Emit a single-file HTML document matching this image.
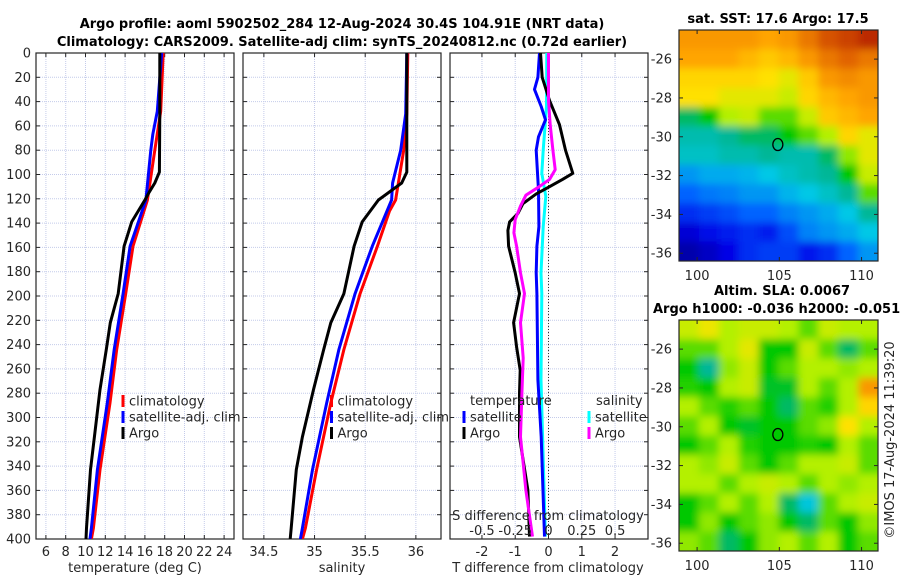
<!DOCTYPE html>
<html><head><meta charset="utf-8"><style>
html,body{margin:0;padding:0;background:#fff;}
svg{display:block;font-family:"DejaVu Sans","Liberation Sans",sans-serif;}
</style></head><body>
<svg id="fig" width="900" height="580" viewBox="0 0 900 580" xmlns="http://www.w3.org/2000/svg">
<defs>
<clipPath id="c1"><rect x="36" y="53" width="198" height="486"/></clipPath>
<clipPath id="c2"><rect x="243" y="53" width="198" height="486"/></clipPath>
<clipPath id="c3"><rect x="450" y="53" width="198" height="486"/></clipPath>
<clipPath id="cm1"><rect x="679" y="30" width="199" height="231"/></clipPath>
<clipPath id="cm2"><rect x="679" y="320" width="199" height="231"/></clipPath>
<filter id="bl" filterUnits="userSpaceOnUse" x="600" y="0" width="300" height="580"><feGaussianBlur stdDeviation="4"/></filter>
</defs>
<g id="root"></g>
</svg>
<script>
// ---- data ----
const tempArgoDepth = [0,48,98,107,115,121,139,159,198,222,244,277,316,343,391,400];
const tempArgo      = [17.5,17.5,17.46,17.0,16.4,16.0,14.67,13.9,13.3,12.5,12.1,11.46,10.9,10.5,10.1,10.05];
const tempClimDepth = [0,48,80,121,159,198,244,288,343,391,400];
const tempClim      = [17.85,17.6,17.0,16.25,14.8,14.06,13.15,12.47,11.46,10.8,10.6];
const tempSatDepth  = [0,48,67,80,121,159,198,244,288,343,391,400];
const tempSat       = [17.7,17.25,16.8,16.6,16.1,14.5,13.8,12.9,12.2,11.2,10.6,10.45];
const salArgoDepth  = [0,50,98,107,121,139,159,198,222,244,277,316,343,391,400];
const salArgo       = [35.91,35.91,35.91,35.86,35.63,35.47,35.39,35.29,35.16,35.09,34.99,34.88,34.82,34.77,34.76];
const salClimDepth  = [0,50,80,121,130,159,198,244,288,343,391,400];
const salClim       = [35.92,35.91,35.88,35.8,35.74,35.62,35.45,35.29,35.16,35.02,34.91,34.88];
const salSatDepth   = [0,50,80,107,121,159,198,244,288,343,391,400];
const salSat        = [35.91,35.9,35.85,35.77,35.76,35.57,35.4,35.24,35.12,34.98,34.88,34.86];
const dTArgoDepth = [0,20,39,59,80,99,104,110,116,124,132,139,146,159,181,198,222,242,261,280,316,360,398];
const dTArgo      = [-0.24,-0.19,0.03,0.33,0.51,0.73,0.42,0.03,-0.37,-0.77,-0.92,-1.17,-1.22,-1.2,-1.0,-0.87,-1.05,-0.96,-0.85,-0.87,-0.87,-0.62,-0.57];
const dSArgoDepth = [0,39,59,80,96,104,110,117,126,137,148,159,181,198,222,251,280,316,360,398];
const dSArgo      = [0,0,0.013,0.033,0.05,0.008,-0.07,-0.17,-0.21,-0.25,-0.26,-0.24,-0.21,-0.18,-0.21,-0.19,-0.2,-0.21,-0.17,-0.12];
const dTSatDepth  = [0,20,30,44,55,69,80,113,143,159,181,198,269,316,398];
const dTSat       = [-0.27,-0.32,-0.42,-0.22,-0.09,-0.3,-0.37,-0.3,-0.29,-0.35,-0.37,-0.35,-0.32,-0.22,-0.12];
const dSSatDepth  = [0,44,80,99,118,143,181,198,269,316,398];
const dSSat       = [-0.013,-0.015,-0.04,-0.05,-0.02,-0.04,-0.056,-0.05,-0.056,-0.044,-0.023];
const depthTicks = [0,20,40,60,80,100,120,140,160,180,200,220,240,260,280,300,320,340,360,380,400];
const tempTicks = [6,8,10,12,14,16,18,20,22,24];
const salTicks = [34.5,35,35.5,36];
const salTickLabels = ["34.5","35","35.5","36"];
const dTTicks = [-2,-1,0,1,2];
const dSTicks = [-0.5,-0.25,0,0.25,0.5];
const dSTickLabels = ["-0.5","-0.25","0","0.25","0.5"];
const latTicks = [-26,-28,-30,-32,-34,-36];
const lonTicks = [100,105,110];
const sstGrid = [
[.80,.80,.80,.80,.78,.80,.85,.90,.92,.95],
[.78,.78,.78,.75,.72,.75,.80,.85,.88,.85],
[.70,.70,.70,.70,.68,.65,.72,.80,.82,.80],
[.68,.68,.65,.65,.65,.62,.70,.75,.78,.80],
[.45,.50,.60,.62,.55,.55,.62,.72,.75,.78],
[.40,.40,.42,.45,.45,.50,.55,.60,.70,.65],
[.38,.38,.40,.40,.42,.40,.40,.45,.58,.65],
[.30,.32,.32,.33,.35,.38,.40,.42,.50,.62],
[.25,.27,.28,.30,.30,.33,.35,.38,.42,.55],
[.18,.20,.22,.25,.25,.28,.30,.32,.35,.42],
[.10,.13,.16,.18,.16,.22,.28,.30,.32,.35],
[.05,.08,.12,.18,.20,.20,.15,.18,.25,.30]];
const slaGrid = [
[.62,.66,.60,.62,.62,.60,.55,.62,.60,.60],
[.55,.55,.60,.65,.50,.50,.62,.55,.45,.55],
[.50,.42,.58,.62,.50,.55,.60,.60,.58,.60],
[.52,.50,.60,.62,.48,.48,.60,.55,.60,.80],
[.60,.55,.52,.55,.50,.45,.55,.52,.60,.70],
[.55,.60,.50,.48,.50,.50,.55,.58,.68,.60],
[.50,.55,.60,.52,.50,.50,.52,.50,.60,.55],
[.60,.58,.62,.55,.50,.55,.60,.60,.62,.55],
[.60,.60,.55,.60,.62,.60,.55,.60,.58,.60],
[.50,.55,.60,.55,.60,.45,.36,.55,.60,.62],
[.50,.58,.50,.55,.58,.50,.45,.55,.50,.58],
[.58,.55,.45,.50,.58,.60,.55,.60,.50,.55]];

// ---- helpers ----
const NS="http://www.w3.org/2000/svg";
const root=document.getElementById('root');
function mk(tag,attrs,parent){const e=document.createElementNS(NS,tag);for(const k in attrs)e.setAttribute(k,attrs[k]);(parent||root).appendChild(e);return e;}
function txt(s,x,y,o,parent){const e=mk('text',Object.assign({x:x,y:y,'font-size':13,fill:'#262626'},o||{}),parent);e.textContent=s;return e;}
const TOP=53,BOT=539;
const yD=d=>TOP+(d/400)*(BOT-TOP);
function lin(d0,d1,r0,r1){return v=>r0+(v-d0)/(d1-d0)*(r1-r0);}
const xT=lin(5,25,36,234);
const xS=lin(34.294,36.248,243,441);
const xDT=lin(-2.96,2.99,450,648);
const xDS=v=>xDT(v*4);

function panel(x0,name,xticks,xfun){
  const g=mk('g',{});
  
  
  for(const d of depthTicks){mk('line',{x1:x0,x2:x0+198,y1:yD(d),y2:yD(d),stroke:'#c4cbea','stroke-width':1,'stroke-dasharray':'1,1'},g);}
  for(const t of xticks){mk('line',{x1:xfun(t),x2:xfun(t),y1:TOP,y2:BOT,stroke:'#c4cbea','stroke-width':1,'stroke-dasharray':'1,1'},g);}
  return g;
}
function frame(x0,xticks,xfun,xlabels,showY,g){
  mk('rect',{x:x0,y:TOP,width:198,height:BOT-TOP,fill:'none',stroke:'#262626','stroke-width':1.2},g);
  for(const d of depthTicks){mk('line',{x1:x0,x2:x0+4,y1:yD(d),y2:yD(d),stroke:'#262626'},g);mk('line',{x1:x0+194,x2:x0+198,y1:yD(d),y2:yD(d),stroke:'#262626'},g);}
  xticks.forEach((t,i)=>{mk('line',{x1:xfun(t),x2:xfun(t),y1:BOT,y2:BOT-4,stroke:'#262626'},g);mk('line',{x1:xfun(t),x2:xfun(t),y1:TOP,y2:TOP+4,stroke:'#262626'},g);
    const l=txt(xlabels[i],xfun(t),556,{'text-anchor':'middle'},g);
    
    });
  if(showY){for(const d of depthTicks){const l=txt(String(d),31,yD(d)+4.5,{'text-anchor':'end'},g);
    
    }}
}
function line(depths,vals,xf,color,clip,name){
  const pts=depths.map((d,i)=>xf(vals[i]).toFixed(1)+','+yD(d).toFixed(1)).join(' ');
  const p=mk('polyline',{points:pts,fill:'none',stroke:color,'stroke-width':3,'stroke-linejoin':'round','clip-path':'url(#'+clip+')'});
  
  
}
function legendEntry(x,y,color,label,name){
  const g=mk('g',{});
  
  
  mk('rect',{x:x-1.5,y:y-6,width:3,height:12,fill:color},g);
  txt(label,x+6,y+4.5,{},g);
}

// Panel 1
const g1=panel(36,'temperature-panel',tempTicks,xT);
line(tempClimDepth,tempClim,xT,'#ff0000','c1','temp-climatology-line');
line(tempSatDepth,tempSat,xT,'#0000ff','c1','temp-satellite-line');
line(tempArgoDepth,tempArgo,xT,'#000000','c1','temp-argo-line');
frame(36,tempTicks,xT,tempTicks.map(String),true,g1);
legendEntry(123,401,'#ff0000','climatology','legend-climatology');
legendEntry(123,417,'#0000ff','satellite-adj. clim','legend-satellite-adj');
legendEntry(123,433,'#000000','Argo','legend-argo');
txt('temperature (deg C)',135,572,{'text-anchor':'middle'});

// Panel 2
const g2=panel(243,'salinity-panel',salTicks,xS);
line(salClimDepth,salClim,xS,'#ff0000','c2','sal-climatology-line');
line(salSatDepth,salSat,xS,'#0000ff','c2','sal-satellite-line');
line(salArgoDepth,salArgo,xS,'#000000','c2','sal-argo-line');
frame(243,salTicks,xS,salTickLabels,false,g2);
legendEntry(331.5,401,'#ff0000','climatology','legend-climatology-2');
legendEntry(331.5,417,'#0000ff','satellite-adj. clim','legend-satellite-adj-2');
legendEntry(331.5,433,'#000000','Argo','legend-argo-2');
txt('salinity',342,572,{'text-anchor':'middle'});

// Panel 3
const g3=panel(450,'difference-panel',dTTicks,xDT);
mk('line',{x1:xDT(0),x2:xDT(0),y1:TOP,y2:BOT,stroke:'#333','stroke-width':1,'stroke-dasharray':'1,2'},g3);
line(dSSatDepth,dSSat,xDS,'#00ffff','c3','dsal-satellite-line');
line(dTSatDepth,dTSat,xDT,'#0000ff','c3','dtemp-satellite-line');
line(dTArgoDepth,dTArgo,xDT,'#000000','c3','dtemp-argo-line');
line(dSArgoDepth,dSArgo,xDS,'#ff00ff','c3','dsal-argo-line');
frame(450,dTTicks,xDT,dTTicks.map(String),false,g3);
txt('temperature',470,405);
legendEntry(464,417,'#0000ff','satellite','legend-dtemp-satellite');
legendEntry(464,433,'#000000','Argo','legend-dtemp-argo');
txt('salinity',596,405);
legendEntry(589,417,'#00ffff','satellite','legend-dsal-satellite');
legendEntry(589,433,'#ff00ff','Argo','legend-dsal-argo');
txt('S difference from climatology',548,520,{'text-anchor':'middle'});
dSTicks.forEach((t,i)=>{const l=txt(dSTickLabels[i],xDS(t),535,{'text-anchor':'middle'});
  
  });
txt('T difference from climatology',548,572,{'text-anchor':'middle'});

// Titles
txt('Argo profile: aoml 5902502_284 12-Aug-2024 30.4S 104.91E (NRT data)',342,28,{'text-anchor':'middle','font-weight':'bold','font-size':13,'fill':'#000'});
txt('Climatology: CARS2009. Satellite-adj clim: synTS_20240812.nc (0.72d earlier)',342,46,{'text-anchor':'middle','font-weight':'bold','font-size':13,'fill':'#000'});

// Maps
const stops=[[0,[0,0,128]],[.12,[0,0,230]],[.25,[0,100,255]],[.35,[0,200,230]],[.43,[0,180,140]],[.5,[0,200,0]],[.6,[180,240,0]],[.68,[255,225,0]],[.78,[255,165,0]],[.88,[225,100,0]],[1,[160,0,0]]];
function cmap(v){for(let i=1;i<stops.length;i++){if(v<=stops[i][0]){const a=stops[i-1],b=stops[i],f=(v-a[0])/(b[0]-a[0]);return 'rgb('+a[1].map((c,k)=>Math.round(c+(b[1][k]-c)*f)).join(',')+')';}}return 'rgb(160,0,0)';}
const lonX=lin(98.9,111,679,878);
function drawMap(y0,grid,clip,name){
  const g=mk('g',{});
  
  
  const cg=mk('g',{'clip-path':'url(#'+clip+')'},g);
  const fg=mk('g',{filter:'url(#bl)'},cg);
  const rows=grid.length,cols=grid[0].length,cw=199/cols,ch=231/rows;
  mk('rect',{x:679,y:y0,width:199,height:231,fill:cmap(grid[5][5])},fg);
  for(let r=-1;r<=rows;r++)for(let c=-1;c<=cols;c++){const rr=Math.min(rows-1,Math.max(0,r)),cc=Math.min(cols-1,Math.max(0,c));
    mk('rect',{x:679+c*cw,y:y0+r*ch,width:cw+0.5,height:ch+0.5,fill:cmap(grid[rr][cc])},fg);}
  const latY=lat=>y0+(-24.5-lat)*(231/11.9);
  mk('ellipse',{cx:lonX(104.91),cy:latY(-30.4),rx:5,ry:6,fill:'none',stroke:'#000','stroke-width':1.3},g);
  mk('rect',{x:679,y:y0,width:199,height:231,fill:'none',stroke:'#262626','stroke-width':1.2},g);
  for(const l of latTicks){const y=latY(l);mk('line',{x1:679,x2:683,y1:y,y2:y,stroke:'#262626'},g);mk('line',{x1:874,x2:878,y1:y,y2:y,stroke:'#262626'},g);
    const t=txt(String(l),672,y+4.5,{'text-anchor':'end'},g);
    
    }
  for(const l of lonTicks){const x=lonX(l);mk('line',{x1:x,x2:x,y1:y0+231,y2:y0+227,stroke:'#262626'},g);mk('line',{x1:x,x2:x,y1:y0,y2:y0+4,stroke:'#262626'},g);
    const t=txt(String(l),x,y0+250,{'text-anchor':'middle'},g);
    
    }
}
drawMap(30,sstGrid,'cm1','sst-map');
drawMap(320,slaGrid,'cm2','sla-map');
txt('sat. SST: 17.6 Argo: 17.5',778,23,{'text-anchor':'middle','font-weight':'bold','font-size':13,'fill':'#000'});
txt('Altim. SLA: 0.0067',714,295,{'font-weight':'bold','font-size':13,'fill':'#000'});
txt('Argo h1000: -0.036 h2000: -0.051',653,313,{'font-weight':'bold','font-size':13,'fill':'#000'});
const cr=txt('©IMOS 17-Aug-2024 11:39:20',0,0,{'text-anchor':'middle',transform:'translate(894,440) rotate(-90)'});


</script>
</body></html>
